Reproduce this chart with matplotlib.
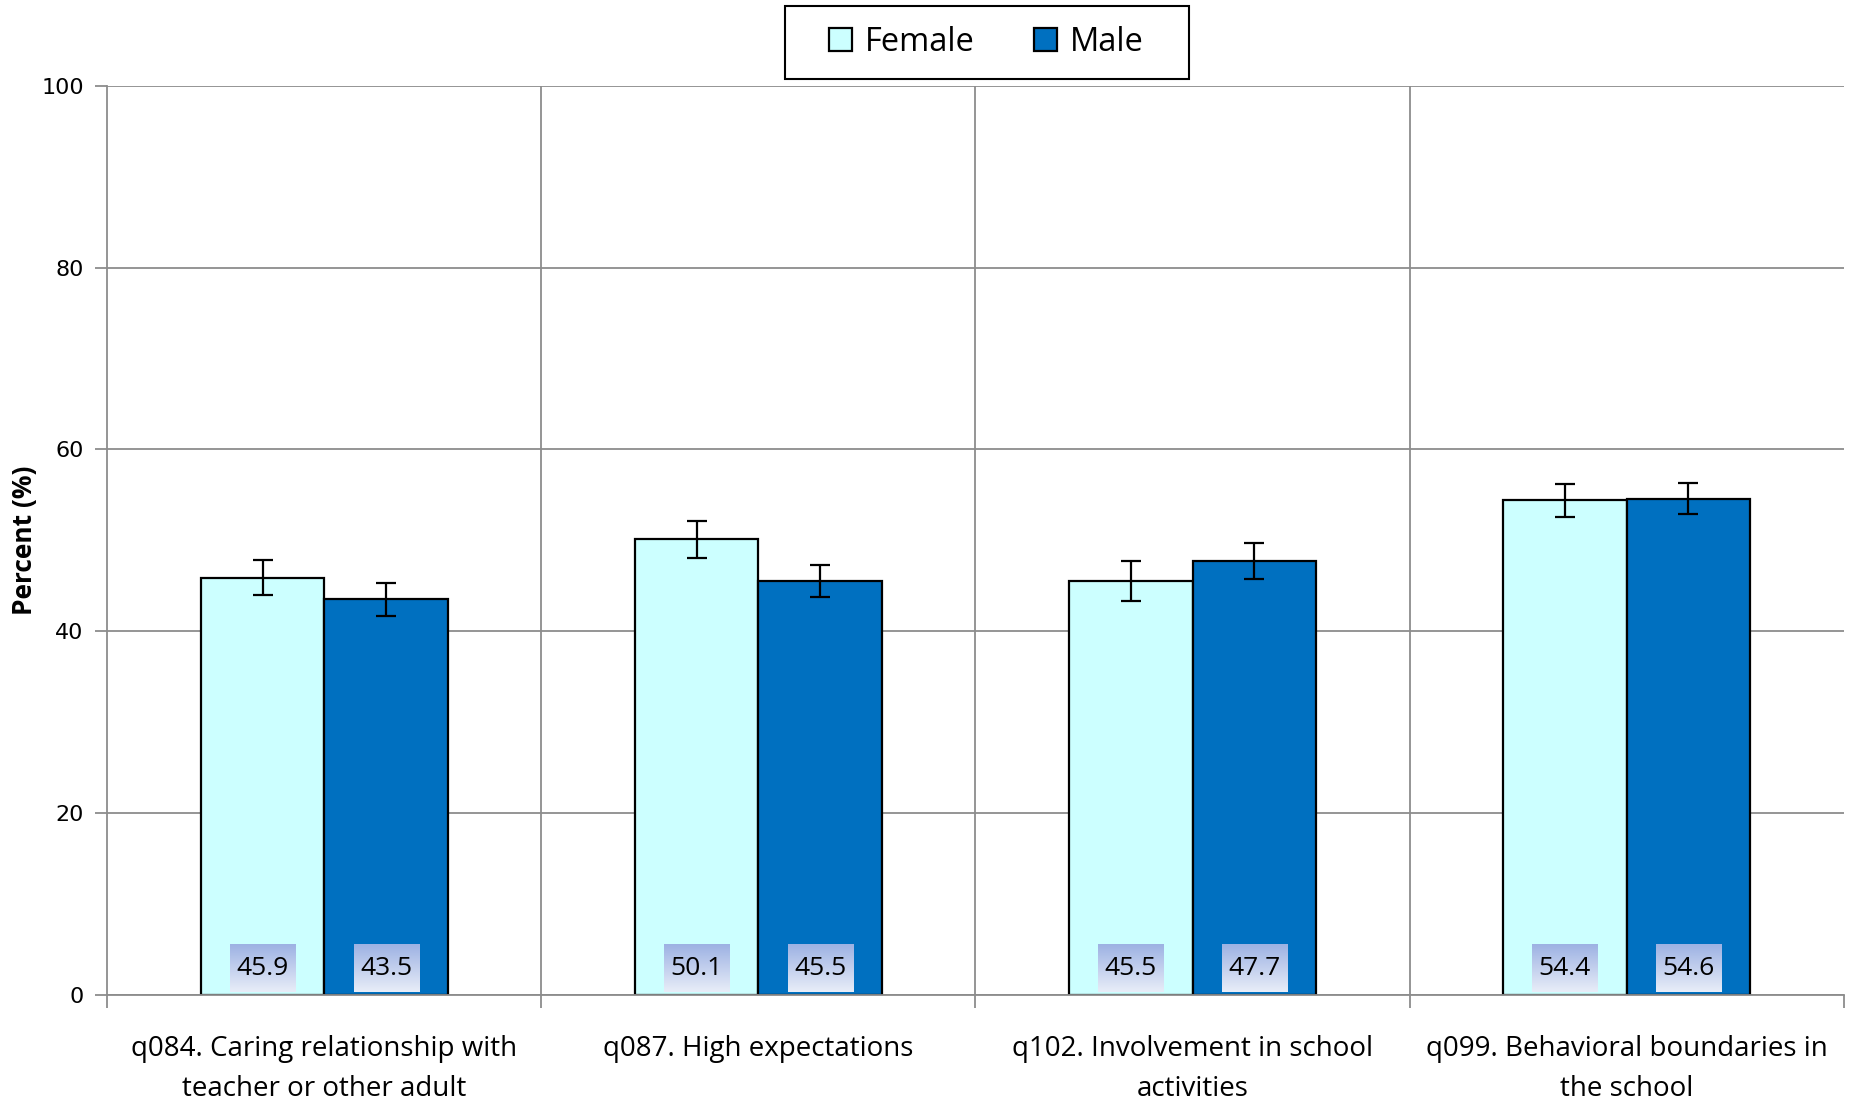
import matplotlib.pyplot as plt
from matplotlib.patches import Rectangle
import numpy as np

categories = ["q084. Caring relationship with\nteacher or other adult",
              "q087. High expectations",
              "q102. Involvement in school\nactivities",
              "q099. Behavioral boundaries in\nthe school"]
female = [45.9, 50.1, 45.5, 54.4]
male = [43.5, 45.5, 47.7, 54.6]
female_err = [1.9, 2.0, 2.2, 1.8]
male_err = [1.85, 1.75, 2.0, 1.75]

plt.rcParams['font.family'] = ['Open Sans', 'DejaVu Sans']

fig = plt.figure(figsize=(18.51, 11.0), dpi=100)
ax = fig.add_axes([0.058, 0.0955, 0.938, 0.8265])

x = np.arange(len(categories))
w = 0.285
grid_col = '#8c8c8c'

ax.set_xlim(-0.5, len(categories) - 0.5)
ax.set_ylim(0, 100)
ax.set_yticks(np.arange(0, 101, 20))
ax.yaxis.grid(True, color=grid_col, linewidth=1.3)
for b in np.arange(0.5, len(categories) - 0.5):
    ax.axvline(b, color=grid_col, linewidth=1.3, zorder=0.5)
ax.set_axisbelow(True)

bf = ax.bar(x - w / 2, female, w, color='#ccffff', edgecolor='black', linewidth=1.6,
            label='Female', zorder=2)
bm = ax.bar(x + w / 2, male, w, color='#0070c0', edgecolor='black', linewidth=1.6,
            label='Male', zorder=2)
ax.errorbar(x - w / 2, female, yerr=female_err, fmt='none', ecolor='black',
            elinewidth=1.6, capsize=7, capthick=1.6, zorder=3)
ax.errorbar(x + w / 2, male, yerr=male_err, fmt='none', ecolor='black',
            elinewidth=1.6, capsize=7, capthick=1.6, zorder=3)

# value labels in gradient boxes
grad = np.linspace(0, 1, 50).reshape(-1, 1)
top = np.array([0x9d, 0xb2, 0xe3]) / 255
bot = np.array([0xe8, 0xed, 0xf8]) / 255
img = top[None, None, :] * (1 - grad[:, :, None]) + bot[None, None, :] * grad[:, :, None]
bw = 0.075
for xs, vals in [(x - w / 2, female), (x + w / 2, male)]:
    for xi, v in zip(xs, vals):
        ax.imshow(img, extent=(xi - bw, xi + bw, 0.3, 5.5), aspect='auto', zorder=4,
                  origin='upper')
        ax.text(xi, 2.9, f"{v:.1f}", ha='center', va='center', fontsize=19, zorder=5)

ax.set_xticks(np.arange(-0.5, len(categories)), minor=False)
ax.set_xticklabels([])
ax.set_xticks(x, minor=True)
ax.set_xticklabels(categories, minor=True, fontsize=20, linespacing=1.55)
ax.tick_params(axis='x', which='minor', length=0, pad=29)
ax.tick_params(axis='x', which='major', length=9, color=grid_col, width=1.3)
ax.tick_params(axis='y', length=9, color=grid_col, width=1.3, labelsize=16,
               pad=8)
for t in ax.get_yticklabels():
    t.set_fontfamily('DejaVu Sans')

for s in ['top', 'right']:
    ax.spines[s].set_visible(False)
for s in ['left', 'bottom']:
    ax.spines[s].set_color(grid_col)
    ax.spines[s].set_linewidth(1.3)

ax.set_ylabel('Percent (%)', fontsize=19, fontweight='bold')
ax.yaxis.set_label_coords(-0.04, 0.5)

leg = fig.legend(handles=[bf, bm], loc='center', bbox_to_anchor=(0.533, 0.9614), ncol=2,
                 fontsize=23.5, frameon=False,
                 handlelength=0.7, handleheight=0.7, columnspacing=1.8,
                 borderpad=0.6, borderaxespad=0, handletextpad=0.4)

# legend frame drawn by hand: wider side padding than matplotlib gives
fig.canvas.draw()
bb = leg.get_window_extent()
padx = (404 - bb.width) / 2
fig.patches.append(Rectangle((bb.x0 - padx, bb.y0), bb.width + 2 * padx,
                             bb.height, transform=None, fill=False,
                             edgecolor='black', linewidth=1.5, figure=fig))

fig.savefig('out.png', dpi=100)
